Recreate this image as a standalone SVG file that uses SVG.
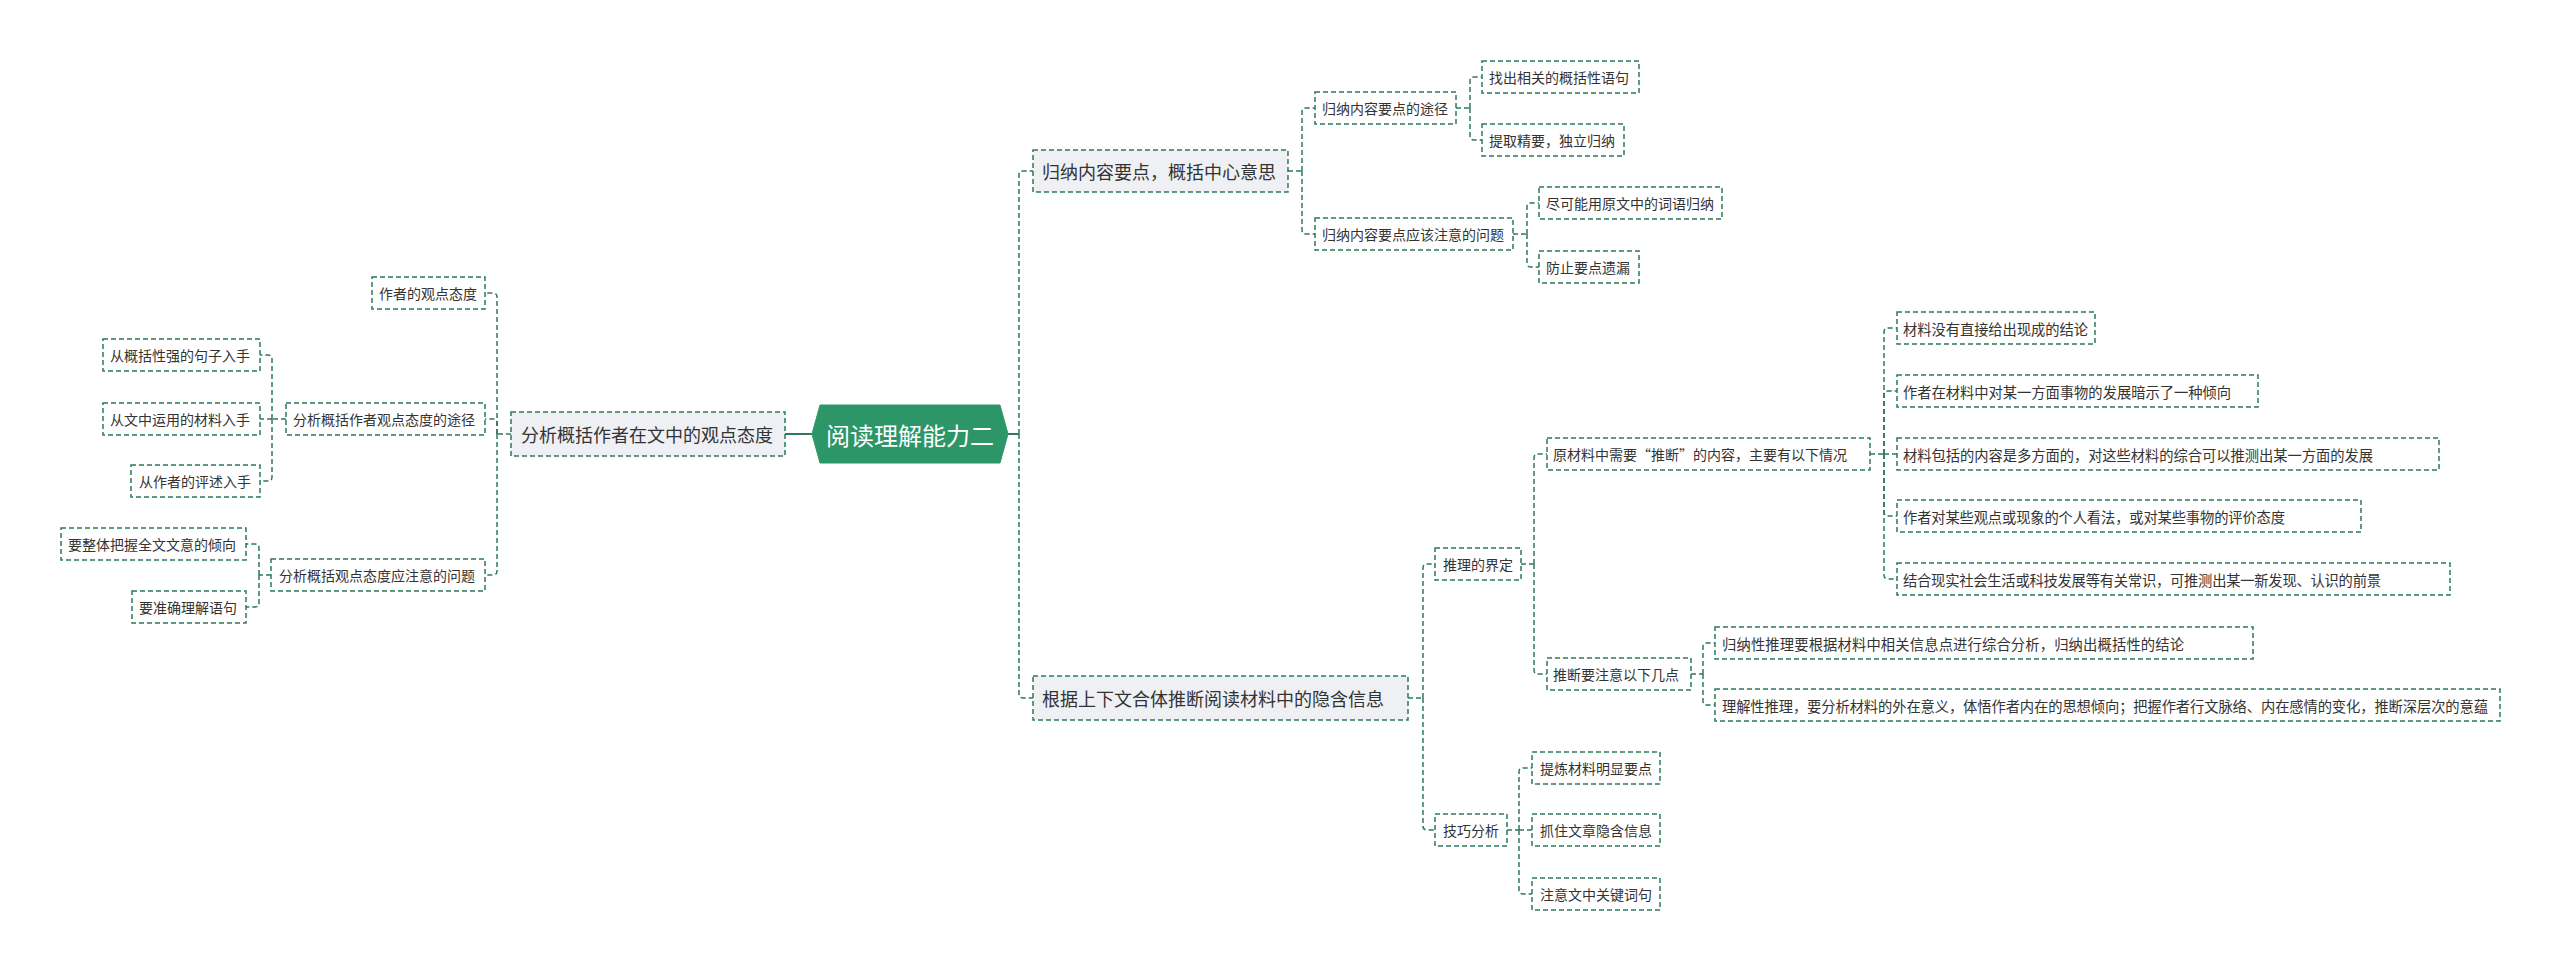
<svg xmlns="http://www.w3.org/2000/svg" width="2560" height="971" viewBox="0 0 2560 971">
<style>
.bg{fill:#ffffff}
.n{fill:#ffffff;stroke:#2d7a5c;stroke-width:1.5;stroke-dasharray:5 3}
.l1{fill:#eef0f4;stroke:#2d7a5c;stroke-width:1.5;stroke-dasharray:5 3}
.root{fill:#2d9668;stroke:#2d9668;stroke-width:1}
.e{fill:none;stroke:#2d7a5c;stroke-width:1.5;stroke-dasharray:5 3}
.es{fill:none;stroke:#2d7a5c;stroke-width:2}
text{font-family:"Noto Sans CJK SC","Noto Sans",sans-serif;fill:#333333;dominant-baseline:central}
.t14{font-size:14px}
.t15{font-size:14.3px}
.t18{font-size:18px}
.tr{font-size:24px;fill:#ffffff;text-anchor:middle}
</style>
<rect class="bg" x="0" y="0" width="2560" height="971"/>
<g id="connectors">
<path class="es" d="M1008,434 H1019"/>
<path class="es" d="M812,434 H785"/>
<path class="e" d="M1019,434 V175 Q1019,171 1023,171 H1033"/>
<path class="e" d="M1019,434 V694 Q1019,698 1023,698 H1033"/>
<path class="e" d="M1288,171 H1302"/>
<path class="e" d="M1302,171 V112 Q1302,108 1306,108 H1315"/>
<path class="e" d="M1302,171 V230 Q1302,234 1306,234 H1315"/>
<path class="e" d="M1456,108 H1470"/>
<path class="e" d="M1470,108 V81 Q1470,77 1474,77 H1482"/>
<path class="e" d="M1470,108 V136 Q1470,140 1474,140 H1482"/>
<path class="e" d="M1513,234 H1527"/>
<path class="e" d="M1527,234 V207 Q1527,203 1531,203 H1539"/>
<path class="e" d="M1527,234 V263 Q1527,267 1531,267 H1539"/>
<path class="e" d="M1408,698 H1423"/>
<path class="e" d="M1423,698 V568 Q1423,564 1427,564 H1435"/>
<path class="e" d="M1423,698 V826 Q1423,830 1427,830 H1435"/>
<path class="e" d="M1521,564 H1534"/>
<path class="e" d="M1534,564 V458 Q1534,454 1538,454 H1547"/>
<path class="e" d="M1534,564 V670 Q1534,674 1538,674 H1547"/>
<path class="e" d="M1870,454 H1884"/>
<path class="e" d="M1884,454 V332 Q1884,328 1888,328 H1897"/>
<path class="e" d="M1884,454 V395 Q1884,391 1888,391 H1897"/>
<path class="e" d="M1884,454 H1897"/>
<path class="e" d="M1884,454 V512 Q1884,516 1888,516 H1897"/>
<path class="e" d="M1884,454 V575 Q1884,579 1888,579 H1897"/>
<path class="e" d="M1691,674 H1703"/>
<path class="e" d="M1703,674 V647 Q1703,643 1707,643 H1715"/>
<path class="e" d="M1703,674 V701 Q1703,705 1707,705 H1715"/>
<path class="e" d="M1507,830 H1519"/>
<path class="e" d="M1519,830 V772 Q1519,768 1523,768 H1532"/>
<path class="e" d="M1519,830 H1532"/>
<path class="e" d="M1519,830 V890 Q1519,894 1523,894 H1532"/>
<path class="e" d="M511,434 H497"/>
<path class="e" d="M497,434 V297 Q497,293 493,293 H485"/>
<path class="e" d="M497,434 V423 Q497,419 493,419 H485"/>
<path class="e" d="M497,434 V571 Q497,575 493,575 H485"/>
<path class="e" d="M286,419 H272"/>
<path class="e" d="M272,419 V359 Q272,355 268,355 H260"/>
<path class="e" d="M272,419 H260"/>
<path class="e" d="M272,419 V477 Q272,481 268,481 H260"/>
<path class="e" d="M271,575 H259"/>
<path class="e" d="M259,575 V548 Q259,544 255,544 H246"/>
<path class="e" d="M259,575 V603 Q259,607 255,607 H246"/>
</g>
<g id="root"><polygon class="root" points="812,434 820,405 1000,405 1008,434 1000,463 820,463"/><text class="tr" x="910" y="434">阅读理解能力二</text></g>
<g id="left-l1"><rect class="l1" x="511" y="412" width="274" height="44"/><text class="t18" x="521" y="434">分析概括作者在文中的观点态度</text></g>
<g id="a1"><rect class="n" x="372" y="277" width="113" height="32"/><text class="t14" x="379" y="293">作者的观点态度</text></g>
<g id="a2"><rect class="n" x="286" y="403" width="199" height="32"/><text class="t14" x="293" y="419">分析概括作者观点态度的途径</text></g>
<g id="a3"><rect class="n" x="271" y="559" width="214" height="32"/><text class="t14" x="279" y="575">分析概括观点态度应注意的问题</text></g>
<g id="b1"><rect class="n" x="103" y="339" width="157" height="32"/><text class="t14" x="110" y="355">从概括性强的句子入手</text></g>
<g id="b2"><rect class="n" x="103" y="403" width="157" height="32"/><text class="t14" x="110" y="419">从文中运用的材料入手</text></g>
<g id="b3"><rect class="n" x="131" y="465" width="129" height="32"/><text class="t14" x="139" y="481">从作者的评述入手</text></g>
<g id="c1"><rect class="n" x="61" y="528" width="185" height="32"/><text class="t14" x="68" y="544">要整体把握全文文意的倾向</text></g>
<g id="c2"><rect class="n" x="132" y="591" width="114" height="32"/><text class="t14" x="139" y="607">要准确理解语句</text></g>
<g id="top-l1"><rect class="l1" x="1033" y="150" width="255" height="42"/><text class="t18" x="1042" y="171">归纳内容要点，概括中心意思</text></g>
<g id="d1"><rect class="n" x="1315" y="92" width="141" height="32"/><text class="t14" x="1322" y="108">归纳内容要点的途径</text></g>
<g id="d2"><rect class="n" x="1315" y="218" width="198" height="32"/><text class="t14" x="1322" y="234">归纳内容要点应该注意的问题</text></g>
<g id="e1"><rect class="n" x="1482" y="61" width="157" height="32"/><text class="t14" x="1489" y="77">找出相关的概括性语句</text></g>
<g id="e2"><rect class="n" x="1482" y="124" width="142" height="32"/><text class="t14" x="1489" y="140">提取精要，独立归纳</text></g>
<g id="e3"><rect class="n" x="1539" y="187" width="183" height="32"/><text class="t14" x="1546" y="203">尽可能用原文中的词语归纳</text></g>
<g id="e4"><rect class="n" x="1539" y="251" width="100" height="32"/><text class="t14" x="1546" y="267">防止要点遗漏</text></g>
<g id="bottom-l1"><rect class="l1" x="1033" y="676" width="375" height="44"/><text class="t18" x="1042" y="698">根据上下文合体推断阅读材料中的隐含信息</text></g>
<g id="f1"><rect class="n" x="1435" y="548" width="86" height="32"/><text class="t14" x="1443" y="564">推理的界定</text></g>
<g id="f2"><rect class="n" x="1435" y="814" width="72" height="32"/><text class="t14" x="1443" y="830">技巧分析</text></g>
<g id="g1"><rect class="n" x="1547" y="438" width="323" height="32"/><text class="t14" x="1553" y="454">原材料中需要“推断”的内容，主要有以下情况</text></g>
<g id="g2"><rect class="n" x="1547" y="658" width="144" height="32"/><text class="t14" x="1553" y="674">推断要注意以下几点</text></g>
<g id="h1"><rect class="n" x="1532" y="752" width="128" height="32"/><text class="t14" x="1540" y="768">提炼材料明显要点</text></g>
<g id="h2"><rect class="n" x="1532" y="814" width="128" height="32"/><text class="t14" x="1540" y="830">抓住文章隐含信息</text></g>
<g id="h3"><rect class="n" x="1532" y="878" width="128" height="32"/><text class="t14" x="1540" y="894">注意文中关键词句</text></g>
<g id="i1"><rect class="n" x="1897" y="312" width="198" height="32"/><text class="t15" x="1903" y="328" textLength="185">材料没有直接给出现成的结论</text></g>
<g id="i2"><rect class="n" x="1897" y="375" width="361" height="32"/><text class="t15" x="1903" y="391" textLength="328">作者在材料中对某一方面事物的发展暗示了一种倾向</text></g>
<g id="i3"><rect class="n" x="1897" y="438" width="542" height="32"/><text class="t15" x="1903" y="454" textLength="470">材料包括的内容是多方面的，对这些材料的综合可以推测出某一方面的发展</text></g>
<g id="i4"><rect class="n" x="1897" y="500" width="464" height="32"/><text class="t15" x="1903" y="516" textLength="382">作者对某些观点或现象的个人看法，或对某些事物的评价态度</text></g>
<g id="i5"><rect class="n" x="1897" y="563" width="553" height="32"/><text class="t15" x="1903" y="579" textLength="478">结合现实社会生活或科技发展等有关常识，可推测出某一新发现、认识的前景</text></g>
<g id="j1"><rect class="n" x="1715" y="627" width="538" height="32"/><text class="t15" x="1722" y="643" textLength="462">归纳性推理要根据材料中相关信息点进行综合分析，归纳出概括性的结论</text></g>
<g id="j2"><rect class="n" x="1715" y="689" width="785" height="32"/><text class="t15" x="1722" y="705" textLength="766">理解性推理，要分析材料的外在意义，体悟作者内在的思想倾向；把握作者行文脉络、内在感情的变化，推断深层次的意蕴</text></g>
</svg>
